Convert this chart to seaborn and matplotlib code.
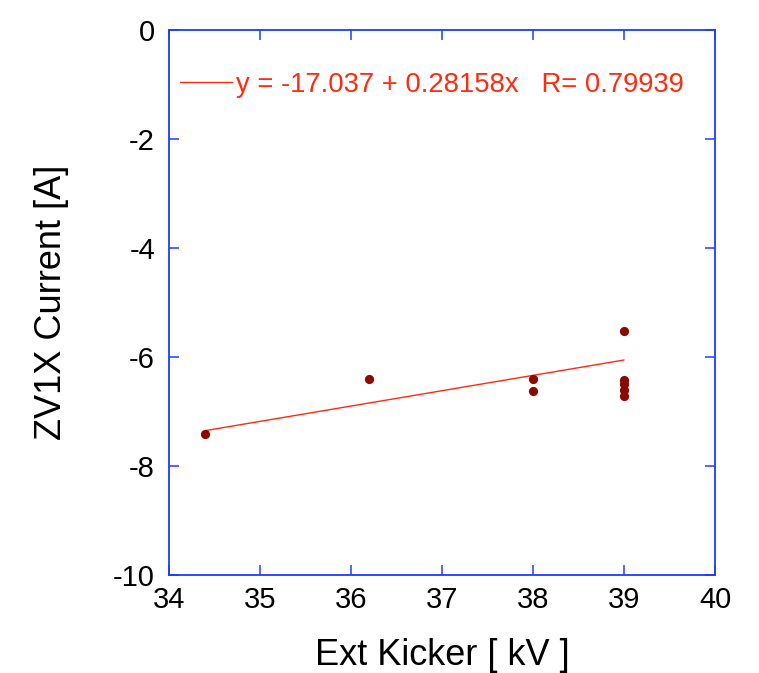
import matplotlib
matplotlib.use("Agg")
import matplotlib.pyplot as plt
import seaborn as sns
import numpy as np
import pandas as pd
from matplotlib.lines import Line2D

# Data
kicker_kv = [34.4, 36.2, 38.0, 38.0, 39.0, 39.0, 39.0, 39.0, 39.0]
zv1x_current = [-7.41, -6.41, -6.40, -6.62, -5.52, -6.42, -6.50, -6.61, -6.72]
fit_intercept = -17.037
fit_slope = 0.28158
fit_r = 0.79939
x_ticks = [34, 35, 36, 37, 38, 39, 40]
y_ticks = [0, -2, -4, -6, -8, -10]

sns.set_theme(style="white")
plt.rcParams['font.family'] = ['Liberation Sans', 'DejaVu Sans']

blue = "#1f3cff"
red = "#ff2a10"
dark = "#8b0a00"

fig = plt.figure(figsize=(7.59, 6.73), dpi=100)
ax = fig.add_axes([169/759, (673-575)/673, 546/759, 545/673])

df = pd.DataFrame({"x": kicker_kv, "y": zv1x_current})
xs = np.array([min(kicker_kv), max(kicker_kv)])
fit_df = pd.DataFrame({"x": xs, "y": fit_intercept + fit_slope * xs})

sns.lineplot(data=fit_df, x="x", y="y", ax=ax, color=red, linewidth=1.0)
sns.scatterplot(data=df, x="x", y="y", ax=ax, color=dark, s=44, edgecolor=dark, linewidth=0, zorder=3)

ax.set_xlim(34, 40)
ax.set_ylim(-10, 0)
ax.set_xticks(x_ticks)
ax.set_yticks(y_ticks)
ax.set_xticklabels([str(t) for t in x_ticks])
ax.set_yticklabels([str(t) for t in y_ticks])

for s in ax.spines.values():
    s.set_color(blue)
    s.set_linewidth(1.3)
    s.set_visible(True)

ax.tick_params(axis="both", which="major", direction="in", length=7, width=1.1,
               color=blue, top=True, right=True, bottom=True, left=True,
               labelsize=21, labelcolor="black")
ax.tick_params(axis="x", pad=8)
ax.tick_params(axis="y", pad=10)

ax.set_xlabel("Ext Kicker [ kV ]", fontsize=26, labelpad=17, color="black")
ax.set_ylabel("ZV1X Current [A]", fontsize=26, labelpad=32, color="black")

label = f"y = {fit_intercept} + {fit_slope}x   R= {fit_r}"
handle = Line2D([0], [0], color=red, linewidth=1.0)
leg = ax.legend([handle], [label], loc="upper left", bbox_to_anchor=(0.02, 0.923),
                frameon=False, fontsize=19.7, labelcolor=red, handlelength=1.9,
                handletextpad=0.15, borderpad=0, borderaxespad=0)

fig.savefig("out.png", dpi=100, facecolor="white")
